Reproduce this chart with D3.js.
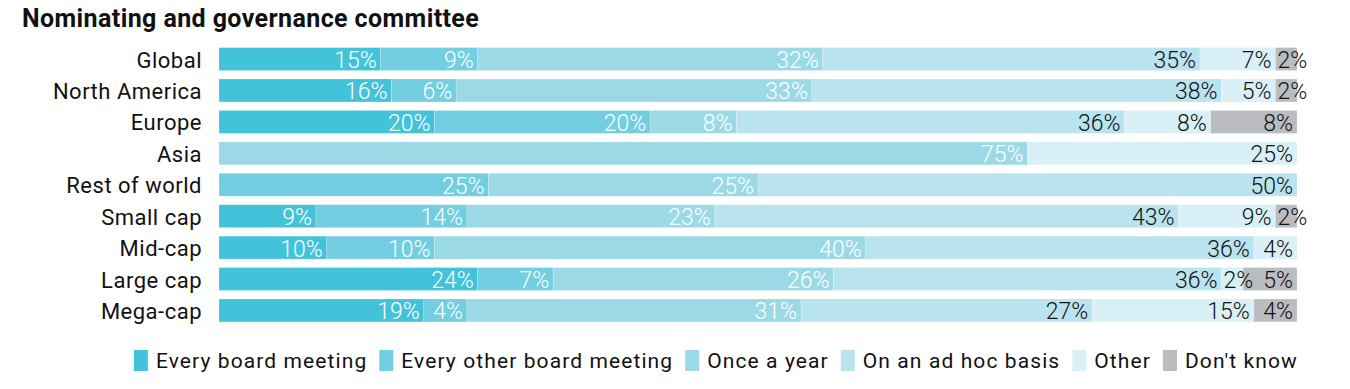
<!DOCTYPE html>
<html>
<head>
<meta charset="utf-8">
<script src="https://cdn.jsdelivr.net/npm/d3@7"></script>
<style>
	body { margin: 0; background: #fff; }
	text { font-family: Roboto, "DejaVu Sans", sans-serif; }
</style>
</head>
<body>
<div id="chart"></div>
<script>
var categories = ["Global", "North America", "Europe", "Asia", "Rest of world",
	"Small cap", "Mid-cap", "Large cap", "Mega-cap"];

var seriesNames = ["Every board meeting", "Every other board meeting", "Once a year",
	"On an ad hoc basis", "Other", "Don't know"];

//	values per category, in series order
var everyBoard = [15, 16, 20, 0, 0, 9, 10, 24, 19];
var everyOther = [9, 6, 20, 0, 25, 14, 10, 7, 4];
var onceYear = [32, 33, 8, 75, 25, 23, 40, 26, 31];
var adHoc = [35, 38, 36, 0, 50, 43, 36, 36, 27];
var other = [7, 5, 8, 25, 0, 9, 4, 2, 15];
var dontKnow = [2, 2, 8, 0, 0, 2, 0, 5, 4];

var colors = ["#43c3d9", "#72cee0", "#9bd9e7", "#b9e3ef", "#daf0f7", "#bbbcc0"];
var labelColors = ["#fff", "#fff", "#fff", "#111", "#111", "#111"];

var W = 1350, H = 389;

var svg = d3.select("#chart")
	.append("svg")
	.attr("width", W)
	.attr("height", H)
	.attr("display", "block");

svg.append("text")
	.attr("x", 22)
	.attr("y", 27)
	.attr("font-size", 25)
	.attr("font-weight", "bold")
	.attr("letter-spacing", 0.4)
	.attr("fill", "#111")
	.text("Nominating and governance committee");

var rows = categories.map(function(c, i) {
	var r = { category: c };
	var vals = [everyBoard[i], everyOther[i], onceYear[i], adHoc[i], other[i], dontKnow[i]];
	seriesNames.forEach(function(s, j) { r[s] = vals[j]; });
	return r;
});

var stack = d3.stack().keys(seriesNames)(rows);

var x = d3.scaleLinear().domain([0, 100]).range([219, 1297]);
var y = d3.scaleBand().domain(categories).range([43.5, 326]).paddingInner(0.27).paddingOuter(0.13);

//	Category labels
svg.append("g").selectAll("text")
	.data(categories)
	.enter().append("text")
	.attr("x", 202)
	.attr("y", function(d) { return y(d) + y.bandwidth() / 2 + 1; })
	.attr("text-anchor", "end")
	.attr("dominant-baseline", "central")
	.attr("font-size", 22)
	.attr("letter-spacing", 0.5)
	.attr("fill", "#111")
	.text(function(d) { return d; });

var layers = svg.append("g").selectAll("g")
	.data(stack)
	.enter().append("g")
	.attr("fill", function(d, i) { return colors[i]; });

layers.selectAll("rect")
	.data(function(d) { return d.filter(function(p) { return p[1] - p[0] > 0; }); })
	.enter().append("rect")
	.attr("x", function(d) { return x(d[0]); })
	.attr("y", function(d) { return y(d.data.category); })
	.attr("width", function(d) { return x(d[1]) - x(d[0]); })
	.attr("height", y.bandwidth())
	.attr("stroke", "#fff")
	.attr("stroke-opacity", 0.35)
	.attr("stroke-width", 0.6);

//	Value labels, drawn on top of all bars
var labels = svg.append("g");
stack.forEach(function(layer, i) {
	layer.forEach(function(p) {
		var v = p[1] - p[0];
		if (v <= 0) return;
		var t = labels.append("text")
			.attr("y", y(p.data.category) + y.bandwidth() / 2 + 1.5)
			.attr("dominant-baseline", "central")
			.attr("font-size", 23)
			.attr("font-weight", 300)
			.attr("fill", labelColors[i])
			.text(v + "%");
		var tw = t.node().getComputedTextLength();
		var segW = x(p[1]) - x(p[0]);
		if (tw + 4 > segW) {
			t.attr("x", x(p[0]) + 2).attr("text-anchor", "start");
		} else {
			t.attr("x", x(p[1]) - 4).attr("text-anchor", "end");
		}
	});
});

//	Legend, right aligned to bar end
var legend = svg.append("g");
var items = seriesNames.map(function(s, i) {
	var g = legend.append("g");
	g.append("rect")
		.attr("x", 0)
		.attr("y", 350)
		.attr("width", 14)
		.attr("height", 21)
		.attr("fill", colors[i]);
	var t = g.append("text")
		.attr("x", 22)
		.attr("y", 361)
		.attr("dominant-baseline", "central")
		.attr("font-size", 21)
		.attr("letter-spacing", 1.1)
		.attr("fill", "#111")
		.text(s);
	return { g: g, w: 22 + t.node().getComputedTextLength() };
});
var gap = 12;
var total = d3.sum(items, function(d) { return d.w; }) + gap * (items.length - 1);
var lx = 1298 - total;
items.forEach(function(it) {
	it.g.attr("transform", "translate(" + lx + ",0)");
	lx += it.w + gap;
});
</script>
</body>
</html>
